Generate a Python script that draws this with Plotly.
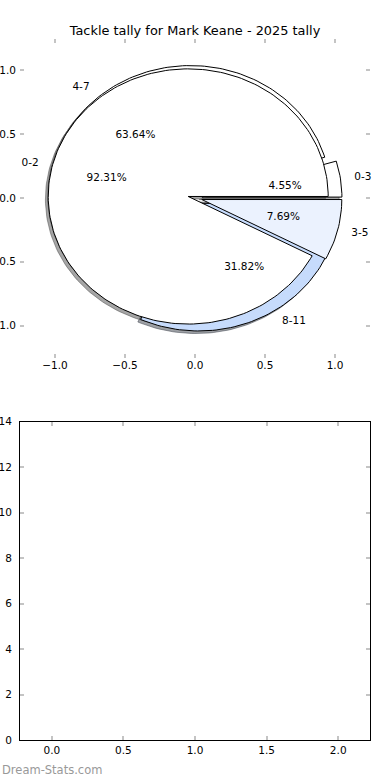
import math
import plotly.graph_objects as go

# ---- data ----
title_text = "Tackle tally for Mark Keane - 2025 tally"
outer_labels = ["0-3", "4-7", "8-11"]
outer_counts = [1, 14, 7]
outer_colors = ["#ffffff", "#ffffff", "#c6dbfc"]
inner_labels = ["0-2", "3-5"]
inner_counts = [12, 1]
inner_colors = ["#ffffff", "#ebf2fe"]
explode = 0.05
pie_ticks = [-1.0, -0.5, 0.0, 0.5, 1.0]
pie_ticktext = ["\u22121.0", "\u22120.5", "0.0", "0.5", "1.0"]
bar_xticks = [0.0, 0.5, 1.0, 1.5, 2.0]
bar_xticktext = ["0.0", "0.5", "1.0", "1.5", "2.0"]
bar_yticks = [0, 2, 4, 6, 8, 10, 12, 14]
watermark = "Dream-Stats.com"

FONT = "DejaVu Sans"
TICKC = "#c4c4c4"


def shade(hexcol):
    h = hexcol.lstrip("#")
    r, g, b = (int(h[i:i + 2], 16) for i in (0, 2, 4))
    return "rgba(%d,%d,%d,0.5)" % (r * 0.3, g * 0.3, b * 0.3)


def build(labels, counts, colors):
    total = float(sum(counts))
    out = []
    t1 = 0.0
    for lab, c, col in zip(labels, counts, colors):
        frac = c / total
        t2 = t1 + 360.0 * frac
        tm = math.radians((t1 + t2) / 2)
        cx = explode * math.cos(tm)
        cy = explode * math.sin(tm)
        n = max(8, int((t2 - t1) / 1.5))
        xs = [cx]
        ys = [cy]
        for i in range(n + 1):
            a = math.radians(t1 + (t2 - t1) * i / n)
            xs.append(cx + math.cos(a))
            ys.append(cy + math.sin(a))
        xs.append(cx)
        ys.append(cy)
        out.append(dict(label=lab, color=col, xs=xs, ys=ys,
                        lx=cx + 1.1 * math.cos(tm), ly=cy + 1.1 * math.sin(tm),
                        px=cx + 0.6 * math.cos(tm), py=cy + 0.6 * math.sin(tm),
                        pct="%1.2f%%" % (100 * frac)))
        t1 = t2
    return out


outer = build(outer_labels, outer_counts, outer_colors)
inner = build(inner_labels, inner_counts, inner_colors)

fig = go.Figure()

# shadows first
for w in outer + inner:
    fig.add_trace(go.Scatter(
        x=[v - 0.02 for v in w["xs"]], y=[v - 0.02 for v in w["ys"]],
        mode="lines", fill="toself", fillcolor=shade(w["color"]),
        line=dict(color=shade(w["color"]), width=1),
        hoverinfo="skip", showlegend=False, xaxis="x", yaxis="y"))

# wedges
for w in outer + inner:
    fig.add_trace(go.Scatter(
        x=w["xs"], y=w["ys"], mode="lines", fill="toself",
        fillcolor=w["color"], line=dict(color="black", width=1),
        hoverinfo="skip", showlegend=False, xaxis="x", yaxis="y"))

# labels and percentages
for w in outer + inner:
    fig.add_trace(go.Scatter(
        x=[w["lx"]], y=[w["ly"]], mode="text", text=[w["label"]],
        textposition="middle right" if w["lx"] > 0 else "middle left",
        textfont=dict(family=FONT, size=10.5, color="black"),
        cliponaxis=False,
        hoverinfo="skip", showlegend=False, xaxis="x", yaxis="y"))
    fig.add_trace(go.Scatter(
        x=[w["px"]], y=[w["py"]], mode="text", text=[w["pct"]],
        textposition="middle center",
        textfont=dict(family=FONT, size=10.5, color="black"),
        cliponaxis=False,
        hoverinfo="skip", showlegend=False, xaxis="x", yaxis="y"))

# empty lower axes
fig.add_trace(go.Scatter(x=[], y=[], mode="markers", showlegend=False,
                         xaxis="x2", yaxis="y2"))

W, H = 390, 780
xd = [20 / W, 370 / W]
tick_common = dict(ticks="inside", ticklen=4, tickwidth=1.5, tickcolor=TICKC,
                   showgrid=False, zeroline=False, automargin=False,
                   tickfont=dict(family=FONT, size=10.5, color="black"))

fig.update_layout(
    width=W, height=H,
    margin=dict(l=0, r=0, t=0, b=0, autoexpand=False),
    paper_bgcolor="white", plot_bgcolor="white",
    showlegend=False,
    title=dict(text=title_text, x=0.5, xanchor="center", y=1 - 30 / H,
               yanchor="middle", font=dict(family=FONT, size=12.9, color="black"),
               automargin=False),
    xaxis=dict(domain=xd, anchor="y", range=[-1.25, 1.25],
               tickvals=pie_ticks, ticktext=pie_ticktext,
               showline=False, mirror="ticks", **tick_common),
    yaxis=dict(domain=[(H - 357.5) / H, (H - 38.5) / H], anchor="x",
               range=[-1.25, 1.25], tickvals=pie_ticks, ticktext=pie_ticktext,
               showline=False, mirror="ticks", ticklabelstandoff=3, **tick_common),
    xaxis2=dict(domain=xd, anchor="y2", range=[-0.222, 2.222],
                tickvals=bar_xticks, ticktext=bar_xticktext,
                showline=True, linecolor="black", linewidth=1, mirror="ticks",
                **tick_common),
    yaxis2=dict(domain=[(H - 740.3) / H, (H - 421.7) / H], anchor="x2",
                range=[0, 14], tickvals=bar_yticks,
                showline=True, linecolor="black", linewidth=1, mirror="ticks",
                ticklabelstandoff=5, **tick_common),
    annotations=[dict(text=watermark, xref="paper", yref="paper",
                      x=0, y=(H - 770) / H, xanchor="left", yanchor="middle",
                      showarrow=False,
                      font=dict(family=FONT, size=11.5, color="#999999"))],
)

fig.write_html("out.html",
               config={"displayModeBar": False},
               post_script="document.body.style.margin='0';"
                           "document.body.style.overflow='hidden';")
